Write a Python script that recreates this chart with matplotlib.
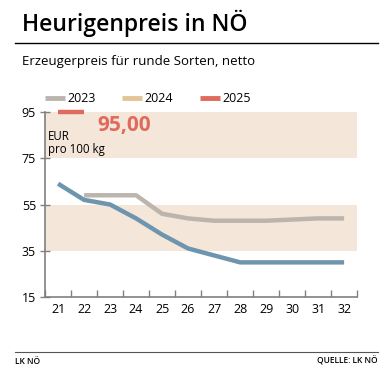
import matplotlib
matplotlib.use('Agg')
import matplotlib.pyplot as plt

plt.rcParams['font.family'] = ['Open Sans', 'DejaVu Sans']

weeks = [21, 22, 23, 24, 25, 26, 27, 28, 29, 30, 31, 32]
# 2023 (grau), ab KW 22
weeks_2023 = [22, 23, 24, 25, 26, 27, 28, 29, 30, 31, 32]
price_2023 = [59, 59, 59, 51, 49, 48, 48, 48, 48.5, 49, 49]
# blaue Linie
price_blue = [64, 57, 55, 49, 42, 36, 33, 30, 30, 30, 30, 30]
# 2025
weeks_2025 = [21, 22]
price_2025 = [95, 95]

yticks = [15, 35, 55, 75, 95]
bands = [(35, 55), (75, 95)]

c_2023 = '#bbb5ae'
c_2024 = '#e2c495'
c_2025 = '#e06a5c'
c_blue = '#6f95ae'
c_band = '#f4e7da'
c_axis = '#808080'

fig = plt.figure(figsize=(3.92, 3.77), dpi=100)
ax = fig.add_axes([0.115, 0.212, 0.796, 0.491])

for lo, hi in bands:
    ax.axhspan(lo, hi, color=c_band, lw=0, zorder=0)

ax.plot(weeks_2023, price_2023, color=c_2023, lw=3.2, solid_capstyle='butt', zorder=2)
ax.plot(weeks, price_blue, color=c_blue, lw=3.2, solid_capstyle='butt', zorder=3)
ax.plot(weeks_2025, price_2025, color=c_2025, lw=3.2, solid_capstyle='butt', zorder=4, clip_on=False)

ax.text(22.5, 89.3, '95,00', color=c_2025, fontsize=15, fontweight='bold', ha='left', va='center')
ax.text(20.62, 87, 'EUR\npro 100 kg', fontsize=8.3, ha='left', va='top', linespacing=0.95)

ax.set_xlim(20.5, 32.5)
ax.set_ylim(15, 95)
ax.set_yticks(yticks)
ax.set_xticks(weeks)
ax.set_xticks([w + 0.5 for w in [20] + weeks], minor=True)
ax.tick_params(axis='x', which='major', length=0, labelsize=9, pad=4)
ax.tick_params(axis='x', which='minor', direction='in', length=5, color=c_axis, width=1)
ax.tick_params(axis='y', direction='inout', length=7, color=c_axis, width=1, labelsize=9, pad=3)
for s in ['top', 'right']:
    ax.spines[s].set_visible(False)
for s in ['left', 'bottom']:
    ax.spines[s].set_color(c_axis)
    ax.spines[s].set_linewidth(1.2)

# Titel und Linien
fig.text(22 / 392, 1 - 23 / 377, 'Heurigenpreis in NÖ', fontsize=16.5, fontweight='semibold', va='center', ha='left')
fig.add_artist(plt.Line2D([15 / 392, 378 / 392], [1 - 43 / 377] * 2, color='black', lw=1))
fig.text(22 / 392, 1 - 61 / 377, 'Erzeugerpreis für runde Sorten, netto', fontsize=9.5, va='center', ha='left')

# Legende
legend_items = [('2023', c_2023, 45), ('2024', c_2024, 122), ('2025', c_2025, 200)]
for label, col, x0 in legend_items:
    yy = 1 - 98 / 377
    fig.add_artist(plt.Line2D([x0 / 392, (x0 + 20) / 392], [yy, yy], color=col, lw=3.5, solid_capstyle='butt'))
    fig.text((x0 + 22) / 392, yy, label, fontsize=9, va='center', ha='left')

fig.add_artist(plt.Line2D([15 / 392, 378 / 392], [1 - 352 / 377] * 2, color='#555555', lw=0.8))
fig.text(15 / 392, 1 - 361 / 377, 'LK NÖ', fontsize=6, fontweight='semibold', va='center', ha='left')
fig.text(378 / 392, 1 - 361 / 377, 'QUELLE: LK NÖ', fontsize=6, fontweight='semibold', va='center', ha='right')

fig.savefig('out.png', dpi=100)
